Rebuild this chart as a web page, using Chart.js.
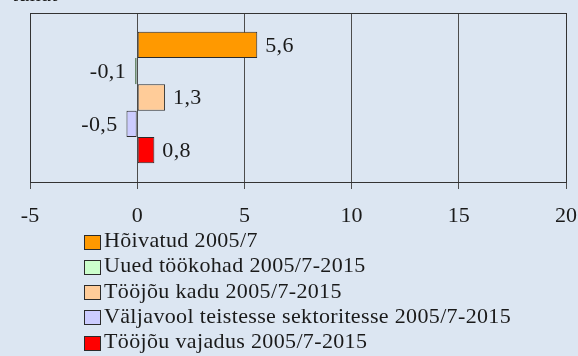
<!DOCTYPE html>
<html>
<head>
<meta charset="utf-8">
<script src="https://cdn.jsdelivr.net/npm/chart.js@4"></script>
<style>
  html, body { margin: 0; padding: 0; background: #dce6f2; }
  #wrap { position: relative; width: 578px; height: 356px; }
</style>
</head>
<body>
<div id="wrap"><canvas id="barchart-1" width="578" height="356"></canvas></div>
<script>
(function () {
	"use strict";

	/*----------------------------------------*/
	/*  data
	/*----------------------------------------*/
	var unitLabel = "tuhat";
	var seriesNames = [
		"Hõivatud 2005/7",
		"Uued töökohad 2005/7-2015",
		"Tööjõu kadu 2005/7-2015",
		"Väljavool teistesse sektoritesse 2005/7-2015",
		"Tööjõu vajadus 2005/7-2015"
	];
	var seriesValues = [5.6, -0.1, 1.3, -0.5, 0.8];
	var seriesColors = ['#FF9900', '#CCFFCC', '#FFCC99', '#CCCCFF', '#FF0000'];
	var seriesBorders = ['#2b2b2b', '#5f7f5f', '#2b2b2b', '#2b2b2b', '#2b2b2b'];
	var axisTicks = [-5, 0, 5, 10, 15, 20];

	var FONT = "'Liberation Serif', 'Times New Roman', serif";
	var FONT_SIZE = 22;
	var SPACING = '0.35px';

	function fmt(v) {
		return v.toFixed(1).replace('.', ',');
	}

	var datasets = seriesNames.map(function (name, i) {
		return {
			label: name,
			data: [seriesValues[i]],
			backgroundColor: seriesColors[i],
			borderColor: seriesBorders[i],
			borderWidth: 1,
			borderSkipped: false,
			barPercentage: 1,
			categoryPercentage: 0.777
		};
	});

	// page background, frame, value labels, legend and unit caption
	var decorations = {
		id: 'decorations',
		beforeDraw: function (chart) {
			var c = chart.ctx;
			c.save();
			c.fillStyle = '#dce6f2';
			c.fillRect(0, 0, chart.width, chart.height);
			c.restore();
		},
		beforeDatasetsDraw: function (chart) {
			var a = chart.chartArea, c = chart.ctx;
			c.save();
			c.strokeStyle = '#333';
			c.lineWidth = 1;
			c.strokeRect(Math.round(a.left) + 0.5, Math.round(a.top) + 0.5,
				Math.round(a.right - a.left), Math.round(a.bottom - a.top));
			c.restore();
		},
		afterDraw: function (chart) {
			var c = chart.ctx;
			c.save();
			c.font = FONT_SIZE + 'px ' + FONT;
			c.letterSpacing = SPACING;
			c.fillStyle = '#1a1a1a';

			// value labels beside each bar
			chart.data.datasets.forEach(function (ds, i) {
				var bar = chart.getDatasetMeta(i).data[0];
				var v = ds.data[0];
				c.textBaseline = 'middle';
				if (v >= 0) {
					c.textAlign = 'left';
					c.fillText(fmt(v), bar.x + 8, bar.y + 1);
				} else {
					c.textAlign = 'right';
					c.fillText(fmt(v), bar.x - 9, bar.y + 1);
				}
			});

			// legend, one entry per line
			c.textAlign = 'left';
			c.textBaseline = 'alphabetic';
			chart.data.datasets.forEach(function (ds, i) {
				var cy = 241.5 + i * 25.3;
				c.fillStyle = ds.backgroundColor;
				c.fillRect(84, Math.round(cy - 7), 16, 14);
				c.strokeStyle = '#2b2b2b';
				c.lineWidth = 1;
				c.strokeRect(84.5, Math.round(cy - 7) + 0.5, 16, 14);
				c.fillStyle = '#1a1a1a';
				c.fillText(ds.label, 104, cy + 5.5);
			});

			// unit caption, mostly above the top edge
			c.fillText(unitLabel, 12, 1);
			c.restore();
		}
	};

	var ctx1 = document.getElementById("barchart-1");
	var barchart1 = new Chart(ctx1, {
		type: 'bar',
		data: {
			labels: [''],
			datasets: datasets
		},
		plugins: [decorations],
		options: {
			indexAxis: 'y',
			responsive: false,
			animation: false,
			layout: {
				padding: { left: 30, right: 12, top: 13, bottom: 0 }
			},
			plugins: {
				legend: { display: false },
				tooltip: { enabled: false }
			},
			scales: {
				y: {
					display: false
				},
				x: {
					min: axisTicks[0],
					max: axisTicks[axisTicks.length - 1],
					afterBuildTicks: function (scale) {
						scale.ticks = axisTicks.map(function (v) { return { value: v }; });
					},
					afterFit: function (scale) {
						scale.height = 174;
						scale.paddingLeft = 0;
						scale.paddingRight = 0;
					},
					grid: {
						color: '#4d4d4d',
						lineWidth: 1,
						tickLength: 7,
						drawTicks: true
					},
					border: { display: true, color: '#333', width: 1 },
					ticks: {
						padding: 14,
						color: '#1a1a1a',
						font: { family: FONT, size: FONT_SIZE },
						maxRotation: 0,
						callback: function (v) { return String(v); }
					}
				}
			}
		}
	});
})();
</script>
</body>
</html>
